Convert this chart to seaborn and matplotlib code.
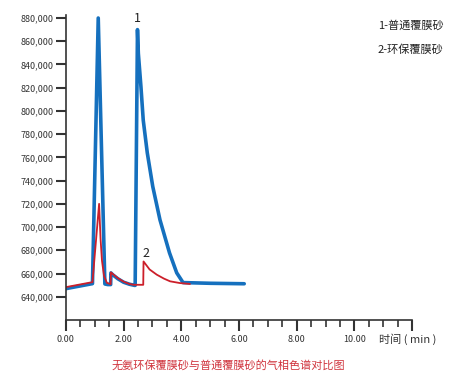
import numpy as np
import pandas as pd
import seaborn as sns
import matplotlib.pyplot as plt
from matplotlib.ticker import MultipleLocator, FuncFormatter

# 1 - ordinary coated sand (blue)
t_blue = [0.00, 0.92, 1.12, 1.35, 1.45, 1.55, 1.56, 1.62, 1.80, 2.00, 2.20, 2.38,
          2.40, 2.48, 2.51, 2.60, 2.68, 2.82, 3.01, 3.26, 3.59, 3.84, 4.06, 5.00, 6.18]
v_blue = [647000, 651300, 880000, 651000, 650500, 650500, 660500, 659000, 655500, 652500, 650800, 649800,
          649800, 870000, 849600, 820900, 792000, 763900, 734900, 706200, 677800, 660600, 652200, 651600, 651200]

# 2 - eco coated sand (red)
t_red = [0.00, 0.92, 1.15, 1.20, 1.25, 1.32, 1.42, 1.55, 1.56, 1.80, 2.00, 2.20, 2.35,
         2.68, 2.69, 2.90, 3.15, 3.40, 3.61, 3.95, 4.30]
v_red = [648300, 652600, 720000, 690000, 671000, 658000, 652000, 650800, 661000, 656000, 653000, 651000, 650300,
         650300, 670400, 663500, 659000, 655600, 653300, 651800, 651000]

y_ticks = list(range(640000, 880001, 20000))

sns.set_style("white")
plt.rcParams['font.family'] = ['Noto Sans CJK SC', 'DejaVu Sans']

fig = plt.figure(figsize=(4.61, 3.75), dpi=100)
ax = fig.add_axes([0.143, 0.1467, 0.751, 0.8133])

blue = "#1570BE"
red = "#CC1F2A"
sns.lineplot(x=t_blue, y=v_blue, ax=ax, color=blue, lw=2.6, estimator=None, sort=False)
sns.lineplot(x=t_red, y=v_red, ax=ax, color=red, lw=1.3, estimator=None, sort=False)

ax.set_xlim(0, 12)
ax.set_ylim(620000, 882600)
ax.set_yticks(y_ticks)
ax.yaxis.set_major_formatter(FuncFormatter(lambda v, p: f"{int(v):,}"))
ax.xaxis.set_major_locator(MultipleLocator(2))
ax.xaxis.set_minor_locator(MultipleLocator(0.5))
ax.xaxis.set_major_formatter(FuncFormatter(lambda v, p: "" if v > 10.5 else f"{v:.2f}"))

for s in ["top", "right"]:
    ax.spines[s].set_visible(False)
for s in ["left", "bottom"]:
    ax.spines[s].set_color("#333333")
    ax.spines[s].set_linewidth(1.2)

ax.tick_params(axis="y", direction="out", length=7, width=1.5, color="#333333",
               labelsize=6.5, labelcolor="#333333", pad=2, left=True)
ax.tick_params(axis="x", which="major", direction="out", length=8, width=1.5, color="#333333",
               labelsize=6.5, labelcolor="#333333", pad=3, bottom=True)
ax.tick_params(axis="x", which="minor", direction="out", length=5, width=1.2, color="#333333", bottom=True)

ax.text(2.47, 880000, "1", ha="center", va="center", fontsize=9, color="#222222")
ax.text(2.76, 677500, "2", ha="center", va="center", fontsize=9, color="#222222")

fig.text(0.82, 0.933, "1-普通覆膜砂", fontsize=8, color="#222222", va="center")
fig.text(0.82, 0.867, "2-环保覆膜砂", fontsize=8, color="#222222", va="center")
fig.text(0.822, 0.096, "时间 ( min )", fontsize=8, color="#333333", va="center")
fig.text(0.495, 0.027, "无氨环保覆膜砂与普通覆膜砂的气相色谱对比图", fontsize=8,
         color="#D0343D", ha="center", va="center")

fig.savefig("out.png", dpi=100)
